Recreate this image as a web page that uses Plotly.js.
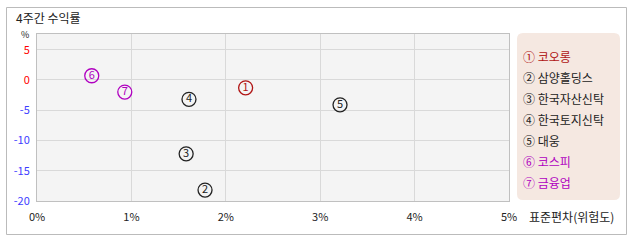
<!DOCTYPE html>
<html><head><meta charset="utf-8">
<script src="https://cdn.plot.ly/plotly-3.0.1.min.js"></script>
<style>html,body{margin:0;padding:0;background:#fff}#c{width:638px;height:242px}</style>
</head><body><div id="c"></div>
<script>
// ---- data ----
const names = ['코오롱','삼양홀딩스','한국자산신탁','한국토지신탁','대웅','코스피','금융업'];
const nums = ['1','2','3','4','5','6','7'];
const circled = ['①','②','③','④','⑤','⑥','⑦'];
const stdDev = [2.21, 1.78, 1.58, 1.61, 3.21, 0.58, 0.93];      // x: 표준편차(%)
const return4w = [-1.3, -18.2, -12.2, -3.2, -4.1, 0.7, -2.0];   // y: 4주간 수익률(%)
const xTickVals = [0,1,2,3,4,5];
const xTickText = ['0%','1%','2%','3%','4%','5%'];
const yTickVals = [5,0,-5,-10,-15,-20];

// ---- styles ----
const colors = ['#b01414','#222222','#222222','#222222','#222222','#b000c0','#b000c0'];
const FONT = '"Noto Sans CJK KR", "DejaVu Sans", sans-serif';
const L = 37, R = 509, T = 34, B = 201, W = 638, H = 242;
const px = v => (v - L) / (R - L);
const py = v => (B - v) / (B - T);

const yTickText = yTickVals.map(v => '<span style="color:' + (v >= 0 ? '#ff0000' : '#3d3dff') + '">' + v + '</span>');

const trace = {
  type: 'scatter', mode: 'markers+text',
  x: stdDev, y: return4w, text: nums,
  textposition: 'middle center',
  textfont: {family: FONT, size: 11, color: colors},
  marker: {symbol: 'circle-open', size: 14, color: colors, line: {width: 1.3, color: colors}},
  hoverinfo: 'none', cliponaxis: false, showlegend: false
};

const annotations = [
  {text: '%', x: px(25), y: py(34), xref: 'paper', yref: 'paper', showarrow: false, borderpad: 0, xanchor: 'center', yanchor: 'middle', font: {family: FONT, size: 9, color: '#222'}},
  {text: '표준편차(위험도)', x: px(527), y: py(216), xref: 'paper', yref: 'paper', showarrow: false, xanchor: 'left', yanchor: 'middle', font: {family: FONT, size: 12, color: '#222'}}
];
names.forEach((n, i) => {
  annotations.push({text: circled[i] + ' ' + n, x: px(521), y: py(56 + 21 * i), xref: 'paper', yref: 'paper',
    showarrow: false, xanchor: 'left', yanchor: 'middle', font: {family: FONT, size: 12, color: colors[i]}});
});

function roundRect(x0, y0, x1, y1, r) {
  // pixel coords -> paper path
  const P = (x, y) => px(x) + ',' + py(y);
  return 'M' + P(x0 + r, y0) + ' L' + P(x1 - r, y0) + ' Q' + P(x1, y0) + ' ' + P(x1, y0 + r) +
    ' L' + P(x1, y1 - r) + ' Q' + P(x1, y1) + ' ' + P(x1 - r, y1) +
    ' L' + P(x0 + r, y1) + ' Q' + P(x0, y1) + ' ' + P(x0, y1 - r) +
    ' L' + P(x0, y0 + r) + ' Q' + P(x0, y0) + ' ' + P(x0 + r, y0) + ' Z';
}

const shapes = [
  {type: 'rect', xref: 'paper', yref: 'paper', x0: px(6.5), x1: px(626.5), y0: py(234.5), y1: py(7.5), line: {color: '#bbbbbb', width: 1}, fillcolor: 'rgba(0,0,0,0)', layer: 'below'},
  {type: 'path', xref: 'paper', yref: 'paper', path: roundRect(517, 33, 620, 200, 6), line: {width: 0}, fillcolor: '#f5e8e1', layer: 'below'}
];

const layout = {
  width: W, height: H,
  margin: {l: L, r: W - R, t: T, b: H - B, pad: 0},
  paper_bgcolor: '#ffffff', plot_bgcolor: '#f4f4f4',
  font: {family: FONT, size: 11, color: '#222'},
  title: {text: '4주간 수익률', x: 16 / W, xanchor: 'left', xref: 'container', y: 1 - 19 / H, yanchor: 'middle', yref: 'container', font: {family: FONT, size: 12, color: '#222'}},
  xaxis: {range: [0, 5], tickvals: xTickVals, ticktext: xTickText, showgrid: true, gridcolor: '#d9d9d9', gridwidth: 1,
    zeroline: false, showline: true, linecolor: '#c0c0c0', linewidth: 1, mirror: true, ticks: '', ticklabelstandoff: 6,
    tickfont: {family: FONT, size: 11, color: '#222'}, fixedrange: true},
  yaxis: {range: [-20, 7.6], tickvals: yTickVals, ticktext: yTickText, showgrid: true, gridcolor: '#d9d9d9', gridwidth: 1,
    zeroline: false, showline: true, linecolor: '#c0c0c0', linewidth: 1, mirror: true, ticks: '', ticklabelstandoff: 4,
    tickfont: {family: FONT, size: 11}, fixedrange: true},
  shapes: shapes, annotations: annotations, showlegend: false
};

Plotly.newPlot('c', [trace], layout, {displayModeBar: false, staticPlot: true});
</script></body></html>
